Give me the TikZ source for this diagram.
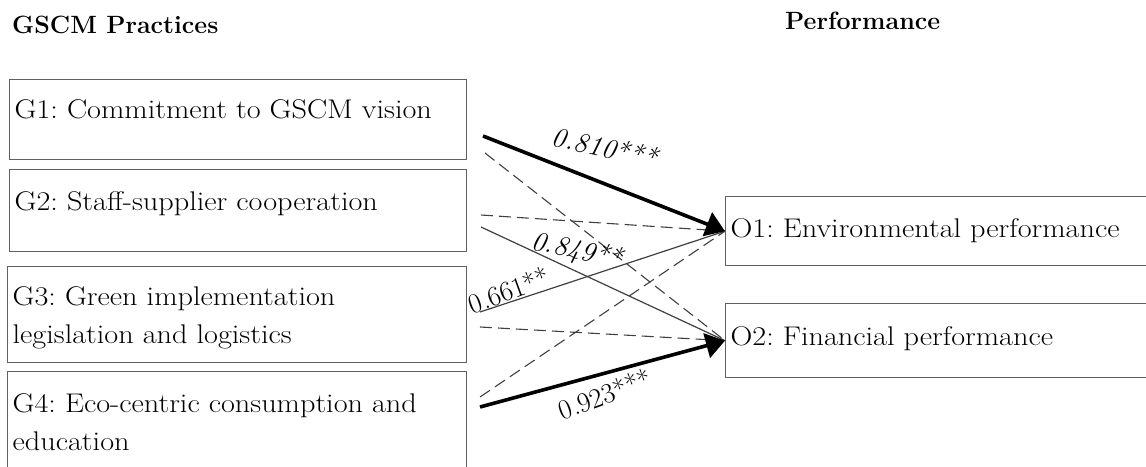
\documentclass[tikz,border=0pt]{standalone}
\usepackage{fontspec}
\setmainfont{Latin Modern Roman}[FakeStretch=1.12]
\newfontfamily\plainfont{Latin Modern Roman}
\usetikzlibrary{arrows.meta}
\definecolor{boxgray}{HTML}{606060}
\definecolor{linegray}{HTML}{404040}
\frenchspacing
\begin{document}
\begin{tikzpicture}[x=1pt,y=-1pt,
  box/.style={draw=boxgray, line width=1.3pt, rectangle, anchor=north west,
    inner ysep=0pt, inner xsep=5pt, align=left,
    font=\fontsize{27}{38}\selectfont\frenchspacing},
  head/.style={anchor=base west, inner sep=0pt, font=\plainfont\fontsize{25}{30}\selectfont\bfseries},
  strong/.style={line width=3.6pt, black, -{Triangle[length=19pt,width=25pt]}},
  weak/.style={line width=1.2pt, linegray},
  nonsig/.style={line width=1.1pt, linegray, dash pattern=on 12pt off 6pt},
  coef/.style={inner sep=0pt, font=\plainfont\fontsize{28}{30}\selectfont}
]
\clip (0,0) rectangle (1146,466);
\fill[white] (0,0) rectangle (1146,466);

% headings
\node[head] (hg) at (12,33) {GSCM Practices};
\node[head] (hp) at (785,29) {Performance};

% left boxes
\node[box, text width=447pt, text height=39pt, text depth=41pt] (g1) at (9,79)
  {G1: Commitment to GSCM vision};
\node[box, text width=447pt, text height=41pt, text depth=41pt] (g2) at (9,169)
  {G2: Staff-supplier cooperation};
\node[box, text width=449pt, text height=39pt, text depth=57pt] (g3) at (7,266)
  {G3: Green implementation\\legislation and logistics};
\node[box, text width=449pt, text height=41pt, text depth=70pt] (g4) at (7,371)
  {G4: Eco-centric consumption and\\education};

% right boxes
\node[box, text width=430pt, text height=41pt, text depth=28pt] (o1) at (725,196)
  {O1: Environmental performance};
\node[box, text width=430pt, text height=42pt, text depth=32pt] (o2) at (725,303)
  {O2: Financial performance};

% free ends of the paths
\coordinate (s1a) at (483,136);
\coordinate (s1b) at (485,153);
\coordinate (s2a) at (481,215);
\coordinate (s2b) at (481,227);
\coordinate (s3a) at (480,312);
\coordinate (s3b) at (480,327);
\coordinate (s4a) at (480,397);
\coordinate (s4b) at (480,407);

% paths
\draw[nonsig] (s1b) -- (o2.west);
\draw[nonsig] (s2a) -- (o1.west);
\draw[weak] (s2b) -- (o2.west);
\draw[weak] (s3a) -- (o1.west);
\draw[nonsig] (s3b) -- (o2.west);
\draw[nonsig] (s4a) -- (o1.west);
\draw[strong] (s1a) -- (o1.west);
\draw[strong] (s4b) -- (o2.west);

% coefficients
\node[coef, rotate=-12] (c1) at (605,147) {\itshape 0.810***};
\node[coef, rotate=-12] (c2) at (577,251) {\itshape 0.849**};
\node[coef, rotate=20] (c3) at (509,290) {0.661**};
\node[coef, rotate=20] (c4) at (605,394) {0.923***};
\end{tikzpicture}
\end{document}
